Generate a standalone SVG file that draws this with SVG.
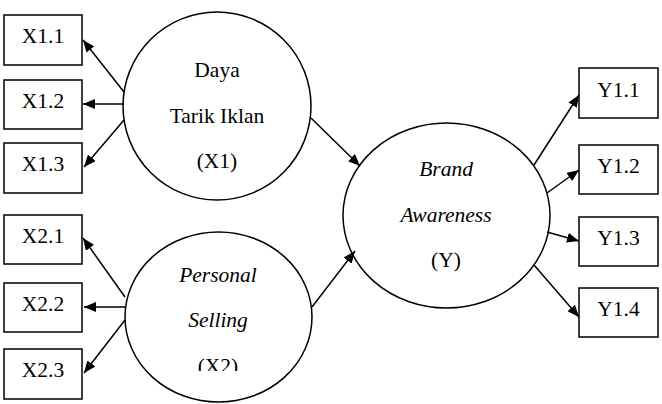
<svg xmlns="http://www.w3.org/2000/svg" width="662" height="404" viewBox="0 0 662 404">
<style>
.box{fill:#fff;stroke:#000;stroke-width:1.5}
.lat{fill:#fff;stroke:#000;stroke-width:1.5}
text{font-family:'Liberation Serif','Times New Roman',serif;font-size:21.5px;fill:#000;text-anchor:middle}
.it{font-style:italic}
.con line{stroke:#000;stroke-width:1.5;marker-end:url(#ah)}
</style>
<defs>
<marker id="ah" viewBox="0 0 12 10" refX="12" refY="5" markerWidth="12" markerHeight="10" markerUnits="userSpaceOnUse" orient="auto">
<path d="M0,0 L12,5 L0,10 z" fill="#000"/>
</marker>
<clipPath id="cx2"><rect x="0" y="0" width="662" height="371"/></clipPath>
</defs>
<rect width="662" height="404" fill="#fff"/>
<g id="X1.1"><rect class="box" x="4" y="15" width="78" height="50"/><text x="43" y="43">X1.1</text></g>
<g id="X1.2"><rect class="box" x="4" y="80" width="78" height="49"/><text x="43" y="108">X1.2</text></g>
<g id="X1.3"><rect class="box" x="4" y="143" width="78" height="50"/><text x="43" y="171">X1.3</text></g>
<g id="X2.1"><rect class="box" x="4" y="215" width="78" height="49"/><text x="43" y="243">X2.1</text></g>
<g id="X2.2"><rect class="box" x="4" y="283" width="78" height="49"/><text x="43" y="311">X2.2</text></g>
<g id="X2.3"><rect class="box" x="4" y="349" width="78" height="50"/><text x="43" y="377">X2.3</text></g>
<g id="Y1.1"><rect class="box" x="579" y="68" width="79" height="50"/><text x="618.5" y="97">Y1.1</text></g>
<g id="Y1.2"><rect class="box" x="579" y="145" width="79" height="49"/><text x="618.5" y="173">Y1.2</text></g>
<g id="Y1.3"><rect class="box" x="579" y="217" width="79" height="49"/><text x="618.5" y="245">Y1.3</text></g>
<g id="Y1.4"><rect class="box" x="579" y="288" width="79" height="49"/><text x="618.5" y="316">Y1.4</text></g>
<g id="X1"><ellipse class="lat" cx="217" cy="106" rx="94" ry="94"/>
<text x="217" y="77">Daya</text><text x="217" y="123">Tarik Iklan</text><text x="217" y="168">(X1)</text></g>
<g id="X2"><ellipse class="lat" cx="218.5" cy="317" rx="93.5" ry="85"/>
<text class="it" x="218" y="282">Personal</text><text class="it" x="218" y="327">Selling</text><text x="218" y="373" clip-path="url(#cx2)">(X2)</text></g>
<g id="Y"><ellipse class="lat" cx="446.5" cy="215.5" rx="103.5" ry="92.5"/>
<text class="it" x="446" y="176">Brand</text><text class="it" x="446" y="222">Awareness</text><text x="446" y="267">(Y)</text></g>
<g class="con" id="connectors">
<line x1="124" y1="92" x2="83" y2="40"/>
<line x1="124" y1="104" x2="83" y2="104"/>
<line x1="124" y1="120" x2="84" y2="167"/>
<line x1="125" y1="297" x2="83" y2="238"/>
<line x1="125" y1="307" x2="84" y2="307"/>
<line x1="125" y1="320" x2="84" y2="373"/>
<line x1="311" y1="118" x2="360" y2="166"/>
<line x1="312" y1="307" x2="355" y2="251"/>
<line x1="534" y1="165" x2="579" y2="95"/>
<line x1="547" y1="193" x2="579" y2="170"/>
<line x1="547" y1="232" x2="579" y2="241"/>
<line x1="534" y1="265" x2="579" y2="317"/>
</g>
</svg>
